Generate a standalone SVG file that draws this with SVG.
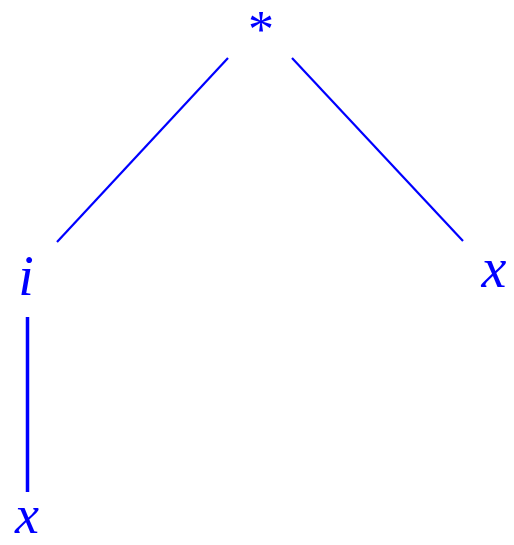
<svg xmlns="http://www.w3.org/2000/svg" width="514" height="545" viewBox="0 0 514 545">
<style>
.lbl{font-family:"Liberation Serif","DejaVu Serif",serif;font-style:italic;fill:#0000ff;text-anchor:middle}
.e{stroke:#0000ff;stroke-width:2.2;fill:none}
</style>
<rect width="514" height="545" fill="#ffffff"/>
<g id="connectors">
<line class="e" x1="228" y1="58" x2="57" y2="242"/>
<line class="e" x1="292" y1="58" x2="463" y2="241"/>
<line class="e" x1="27.5" y1="317" x2="27.5" y2="492" style="stroke-width:3.5"/>
</g>
<g id="n_mul"><text class="lbl" x="261" y="47" font-size="52" style="font-style:normal">*</text></g>
<g id="n_i"><text class="lbl" x="26" y="295" font-size="56">i</text></g>
<g id="n_x1"><text class="lbl" x="494" y="287" font-size="56">x</text></g>
<g id="n_x2"><text class="lbl" x="27" y="533" font-size="54">x</text></g>
</svg>
